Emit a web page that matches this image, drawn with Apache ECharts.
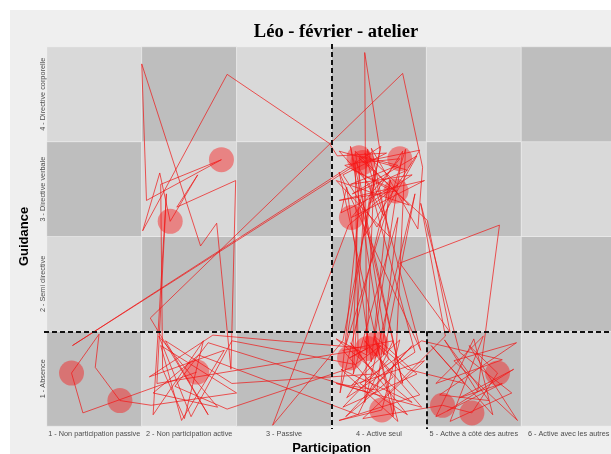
<!DOCTYPE html>
<html>
<head>
<meta charset="utf-8">
<script src="https://cdn.jsdelivr.net/npm/echarts@6/dist/echarts.min.js"></script>
<style>
  html, body { margin: 0; padding: 0; background: #fff; }
  #chart { width: 611px; height: 454px; }
</style>
</head>
<body>
<div id="chart"></div>
<script>
// niveaux des deux axes
const participationLevels = ['1 - Non participation passive', '2 - Non participation active', '3 - Passive',
  '4 - Active seul', '5 - Active à côté des autres', '6 - Active avec les autres']
const guidanceLevels = ['1 - Absence', '2 - Semi directive', '3 - Directive verbale', '4 - Directive corporelle']

// trajet (points jitterés)
const pathParticipation = [
  2.08, 0.88, 0.76, 1.05, 1.01, 1.27, 1.60, 2.50, 1.70, 1.92, 2.37, 1.58, 2.25, 3.88, 3.69, 3.97, 4.43, 3.58, 4.03, 4.22,
  3.71, 4.48, 3.83, 4.67, 4.98, 5.25, 4.95, 5.46, 4.79, 5.45, 4.64, 5.16, 4.69, 5.04, 5.27, 4.22, 4.75, 4.51, 3.79, 3.83,
  4.22, 3.71, 4.48, 3.58, 4.18, 3.64, 4.43, 3.85, 4.01, 3.85, 3.87, 3.55, 4.35, 3.60, 4.20, 3.95, 4.40, 3.62, 4.10, 3.75,
  4.32, 3.55, 4.11, 3.92, 4.41, 4.46, 4.25, 1.59, 2.20, 1.75, 2.45, 3.95, 3.70, 4.30, 3.80, 4.45, 5.30, 4.60, 5.10, 4.75,
  5.40, 4.85, 4.44, 4.70, 4.05, 3.62, 4.15, 3.78, 2.10, 1.62, 2.30, 1.68, 2.02, 2.45, 3.75, 4.02, 3.66, 4.38, 3.90, 3.58,
  4.30, 3.72, 4.40, 3.98, 3.62, 4.08, 3.56, 3.48, 2.40, 1.51, 1.69, 1.80, 2.09, 1.87, 2.49, 2.44, 2.29, 2.12, 1.50, 1.55,
  2.34, 1.70, 1.72, 1.95, 2.15, 1.62, 1.76, 1.66, 3.78, 3.75, 4.05, 3.85, 4.20, 3.68, 2.88, 3.62, 4.02, 0.77, 3.70, 4.10,
  3.60, 3.66, 3.92, 4.12, 3.59, 3.80, 4.25, 3.70, 4.05, 4.38, 3.85, 3.95, 3.65, 4.28, 4.15, 3.58, 4.44, 3.88, 3.73, 4.20,
  3.98, 3.55, 4.45, 3.85, 4.15, 3.65, 4.35, 3.90, 2.20, 1.85, 2.40, 3.72, 3.80, 4.20, 3.70, 4.35, 3.90, 4.25, 3.95, 4.30,
  4.90, 4.55, 5.20, 5.00, 4.60, 5.30, 4.85, 5.42, 4.72
]
const pathGuidance = [
  1.07, 0.64, 1.06, 1.47, 1.12, 0.77, 0.72, 0.85, 1.35, 0.56, 1.30, 1.02, 1.46, 1.32, 1.22, 1.37, 0.83, 0.56, 0.67, 1.41,
  0.93, 1.19, 0.58, 0.72, 0.64, 1.06, 1.35, 0.56, 1.19, 1.38, 0.83, 0.77, 1.41, 0.86, 2.62, 2.22, 1.49, 2.67, 3.33, 3.28,
  3.32, 2.70, 3.09, 2.88, 2.98, 3.25, 3.41, 2.51, 3.41, 4.44, 1.25, 1.42, 0.75, 1.10, 0.55, 1.45, 1.05, 0.70, 1.20, 3.40,
  2.83, 3.09, 2.50, 3.43, 2.58, 3.23, 4.22, 1.64, 0.62, 1.40, 0.95, 1.05, 1.38, 0.62, 0.95, 1.40, 1.20, 0.95, 1.45, 0.55,
  0.85, 1.28, 2.85, 1.45, 0.80, 1.30, 1.40, 0.62, 1.25, 0.85, 0.70, 1.45, 0.60, 1.40, 1.15, 1.35, 0.80, 1.28, 3.05, 3.40,
  3.20, 2.95, 3.35, 2.60, 3.15, 3.38, 3.35, 3.48, 4.21, 2.56, 3.17, 2.66, 3.15, 2.81, 3.09, 1.10, 2.64, 2.40, 4.32, 2.88,
  3.31, 3.05, 1.10, 0.58, 1.40, 0.62, 2.95, 0.95, 1.30, 3.30, 2.72, 3.38, 3.05, 2.62, 0.51, 1.40, 3.45, 1.35, 3.22, 3.00,
  2.75, 3.02, 1.18, 3.10, 0.85, 2.90, 0.95, 3.45, 1.25, 2.95, 0.75, 3.20, 1.35, 3.42, 0.60, 3.18, 1.30, 3.42, 1.05, 2.70,
  0.88, 0.95, 0.70, 1.40, 1.02, 0.60, 1.35, 0.85, 1.38, 0.92, 0.68, 1.12, 3.35, 3.25, 3.05, 3.15, 2.85, 3.40, 1.40, 1.10,
  0.95, 1.35, 0.62, 1.42, 0.60, 0.95, 0.80, 1.10, 0.66
]

// séjours longs (cercles)
const stayParticipation = [0.76, 1.27, 2.08, 2.34, 1.80, 3.79, 3.83, 4.22, 4.18, 3.71, 3.97, 3.88, 3.69, 4.03, 5.25, 4.67, 4.98]
const stayGuidance = [1.06, 0.77, 1.07, 3.31, 2.66, 3.33, 3.28, 3.32, 2.98, 2.70, 1.37, 1.32, 1.22, 0.67, 1.06, 0.72, 0.64]

// séparations en pointillés
const participationSplit = [3.5, 4.5]
const guidanceSplit = 1.5

const chart = echarts.init(document.getElementById('chart'))

let tiles = []
participationLevels.forEach((p, i) => {
  guidanceLevels.forEach((g, j) => {
    tiles.push([i + 1, j + 1, (i + j) % 2 === 0 ? 1 : 0])
  })
})

let pathData = pathParticipation.map((x, i) => [x, pathGuidance[i]])
let stayData = stayParticipation.map((x, i) => [x, stayGuidance[i]])

const xMin = 0.47, xMax = 6.53, yMin = 0.47, yMax = 4.53
const labelFont = 'Liberation Sans, Arial, sans-serif'

let option = {
  backgroundColor: '#efefef',
  animation: false,
  graphic: [
    { type: 'rect', left: 0, top: 0, shape: { width: 611, height: 10 }, style: { fill: '#fff' } },
    { type: 'rect', left: 0, top: 0, shape: { width: 10, height: 454 }, style: { fill: '#fff' } }
  ],
  title: {
    text: 'Léo - février - atelier',
    left: 331,
    top: 18,
    textAlign: 'center',
    textStyle: {
      fontFamily: 'Liberation Serif, Times New Roman, serif',
      fontWeight: 'bold',
      fontSize: 18.5,
      color: '#000'
    }
  },
  grid: { left: 44, top: 44, width: 575, height: 385, outerBoundsMode: 'none', containLabel: false },
  xAxis: {
    type: 'value',
    min: xMin,
    max: xMax,
    name: 'Participation',
    nameLocation: 'middle',
    nameGap: 12,
    nameTextStyle: { fontFamily: labelFont, fontWeight: 'bold', fontSize: 13, color: '#000', verticalAlign: 'top' },
    axisLine: { show: false },
    axisTick: { show: false },
    splitLine: { show: false },
    axisLabel: {
      customValues: [1, 2, 3, 4, 5, 6],
      formatter: v => participationLevels[Math.round(v) - 1],
      fontFamily: labelFont,
      fontSize: 7.3,
      color: '#4d4d4d',
      margin: 1
    }
  },
  yAxis: {
    type: 'value',
    min: yMin,
    max: yMax,
    name: 'Guidance',
    nameLocation: 'middle',
    nameGap: 0,
    nameTextStyle: { fontFamily: labelFont, fontWeight: 'bold', fontSize: 13, color: '#000' },
    axisLine: { show: false },
    axisTick: { show: false },
    splitLine: { show: false },
    axisLabel: {
      customValues: [1, 2, 3, 4],
      formatter: v => guidanceLevels[Math.round(v) - 1],
      rotate: 90,
      fontFamily: labelFont,
      fontSize: 7.3,
      color: '#4d4d4d',
      margin: -2
    }
  },
  series: [
    {
      type: 'custom',
      silent: true,
      z: 1,
      data: tiles,
      renderItem: function (params, api) {
        let p0 = api.coord([api.value(0) - 0.5, api.value(1) + 0.5])
        let p1 = api.coord([api.value(0) + 0.5, api.value(1) - 0.5])
        return {
          type: 'rect',
          shape: { x: p0[0], y: p0[1], width: p1[0] - p0[0], height: p1[1] - p0[1] },
          style: { fill: api.value(2) ? '#bebebe' : '#d9d9d9', stroke: 'rgba(255,255,255,0.3)', lineWidth: 1 }
        }
      },
      markLine: {
        silent: true,
        symbol: 'none',
        label: { show: false },
        lineStyle: { color: '#111', width: 2, type: [5, 3] },
        data: [
          [{ coord: [participationSplit[0], yMax] }, { coord: [participationSplit[0], yMin] }],
          [{ coord: [xMin, guidanceSplit] }, { coord: [xMax, guidanceSplit] }],
          [{ coord: [participationSplit[1], guidanceSplit] }, { coord: [participationSplit[1], yMin] }]
        ]
      }
    },
    {
      type: 'line',
      z: 3,
      silent: true,
      showSymbol: false,
      data: pathData,
      lineStyle: { color: 'rgba(240,20,20,0.7)', width: 1 }
    },
    {
      type: 'scatter',
      z: 4,
      silent: true,
      symbolSize: 25,
      data: stayData,
      itemStyle: { color: 'rgba(250,20,20,0.55)' }
    }
  ]
}
chart.setOption(option)
</script>
</body>
</html>
